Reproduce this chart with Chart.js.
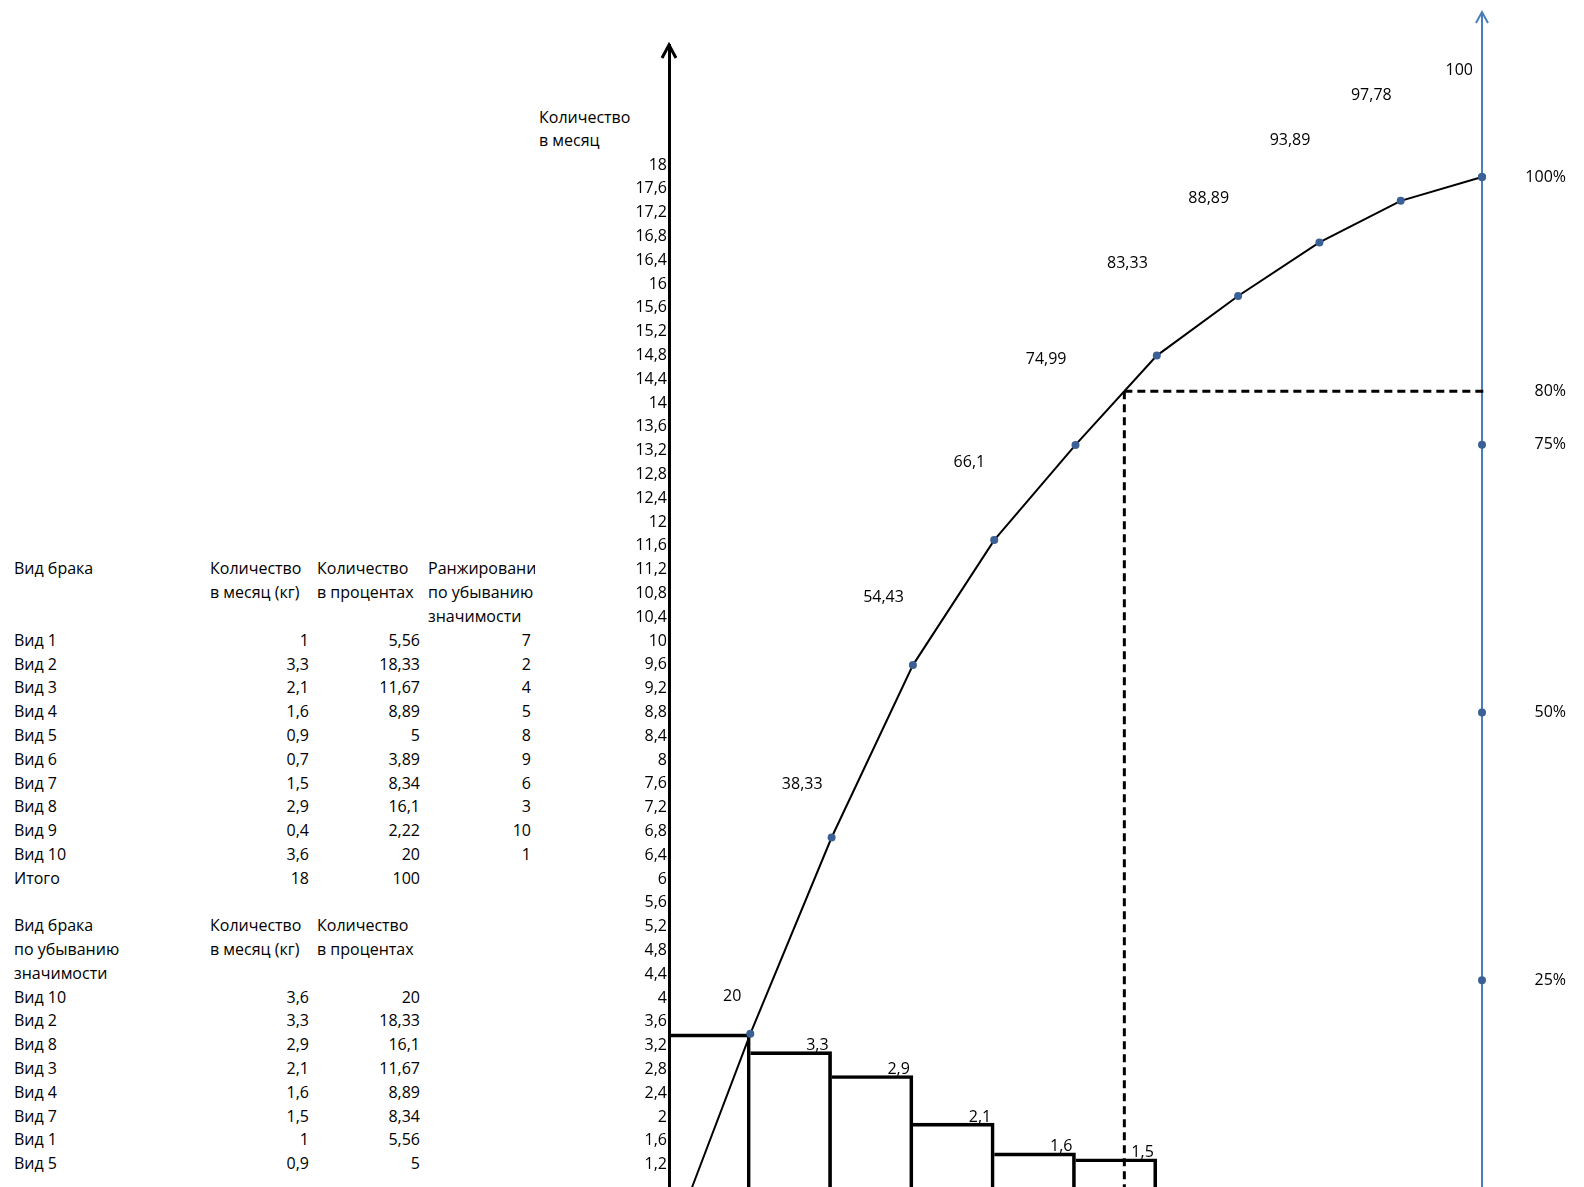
<!DOCTYPE html>
<html>
<head>
<meta charset="utf-8">
<script src="https://cdn.jsdelivr.net/npm/chart.js@4.4.0/dist/chart.umd.min.js"></script>
<style>
    html, body { margin: 0; width: 1584px; height: 1187px; overflow: hidden; background: #fff; }
    body { font-family: 'Open Sans', sans-serif; font-size: 16px; color: #000; position: relative; }
    .cell { position: absolute; height: 23.786px; line-height: 23.786px; white-space: nowrap; overflow: hidden; box-sizing: border-box; padding: 0 4px; }
    #pareto { position: absolute; left: 0; top: 0; }
</style>
</head>
<body>
<div id="sheet"></div>
<canvas id="pareto" width="1584" height="1260"></canvas>
<script>
// Worksheet grid (rows of the spreadsheet the chart was drawn on)
const ROW_H = 23.786;
const ROW0 = 153.1;
const LAST_ROW = 42; // last row visible in the screenshot
const FONT = '"Open Sans", sans-serif';

// Source table
const kinds = ['Вид 1', 'Вид 2', 'Вид 3', 'Вид 4', 'Вид 5', 'Вид 6', 'Вид 7', 'Вид 8', 'Вид 9', 'Вид 10'];
const kgPerMonth = [1, 3.3, 2.1, 1.6, 0.9, 0.7, 1.5, 2.9, 0.4, 3.6];
const pctShare = [5.56, 18.33, 11.67, 8.89, 5, 3.89, 8.34, 16.1, 2.22, 20];
const rankOrder = [7, 2, 4, 5, 8, 9, 6, 3, 10, 1];
const totalKg = 18;
const totalPct = 100;

// Sorted by importance (Pareto order)
const sortedKinds = ['Вид 10', 'Вид 2', 'Вид 8', 'Вид 3', 'Вид 4', 'Вид 7', 'Вид 1', 'Вид 5', 'Вид 6', 'Вид 9'];
const sortedKg = [3.6, 3.3, 2.9, 2.1, 1.6, 1.5, 1, 0.9, 0.7, 0.4];
const sortedPct = [20, 18.33, 16.1, 11.67, 8.89, 8.34, 5.56, 5, 3.89, 2.22];
const cumPct = [20, 38.33, 54.43, 66.1, 74.99, 83.33, 88.89, 93.89, 97.78, 100];

// Axis ticks
const yTicks = [18, 17.6, 17.2, 16.8, 16.4, 16, 15.6, 15.2, 14.8, 14.4, 14, 13.6, 13.2, 12.8, 12.4, 12,
    11.6, 11.2, 10.8, 10.4, 10, 9.6, 9.2, 8.8, 8.4, 8, 7.6, 7.2, 6.8, 6.4, 6, 5.6, 5.2, 4.8, 4.4, 4,
    3.6, 3.2, 2.8, 2.4, 2, 1.6, 1.2];
const pctTicks = [25, 50, 75, 80, 100];
const pctMarks = [25, 50, 75, 100];
const paretoLevel = 80;

const fmt = v => String(v).replace('.', ',');

// ---- Worksheet text ----
const sheet = document.getElementById('sheet');
const cols = {
    A: { left: 10, width: 196 },
    B: { left: 206, width: 107 },
    C: { left: 313, width: 111 },
    D: { left: 424, width: 111 },
    T: { left: 535, width: 130 }
};

function cell(row, col, text, align) {
    if (row > LAST_ROW) return;
    const d = document.createElement('div');
    d.className = 'cell';
    d.style.top = (ROW0 + row * ROW_H) + 'px';
    d.style.left = cols[col].left + 'px';
    d.style.width = cols[col].width + 'px';
    d.style.textAlign = align || 'left';
    d.textContent = text;
    sheet.appendChild(d);
}

// axis caption
cell(-2, 'T', 'Количество');
cell(-1, 'T', 'в месяц');

// first table
cell(17, 'A', 'Вид брака');
cell(17, 'B', 'Количество');
cell(18, 'B', 'в месяц (кг)');
cell(17, 'C', 'Количество');
cell(18, 'C', 'в процентах');
cell(17, 'D', 'Ранжирование');
cell(18, 'D', 'по убыванию');
cell(19, 'D', 'значимости');
kinds.forEach((k, i) => {
    cell(20 + i, 'A', k);
    cell(20 + i, 'B', fmt(kgPerMonth[i]), 'right');
    cell(20 + i, 'C', fmt(pctShare[i]), 'right');
    cell(20 + i, 'D', fmt(rankOrder[i]), 'right');
});
cell(30, 'A', 'Итого');
cell(30, 'B', fmt(totalKg), 'right');
cell(30, 'C', fmt(totalPct), 'right');

// second table
cell(32, 'A', 'Вид брака');
cell(33, 'A', 'по убыванию');
cell(34, 'A', 'значимости');
cell(32, 'B', 'Количество');
cell(33, 'B', 'в месяц (кг)');
cell(32, 'C', 'Количество');
cell(33, 'C', 'в процентах');
sortedKinds.forEach((k, i) => {
    cell(35 + i, 'A', k);
    cell(35 + i, 'B', fmt(sortedKg[i]), 'right');
    cell(35 + i, 'C', fmt(sortedPct[i]), 'right');
});

// ---- Drawing extras: arrows, dashed 80% lines, value labels ----
const paretoDecor = {
    id: 'paretoDecor',
    beforeDatasetsDraw(chart) {
        const { ctx, chartArea, scales: { x, y1 } } = chart;
        const pts = [0, ...cumPct];
        let cross = 0;
        for (let i = 1; i < pts.length; i++) {
            if (pts[i] >= paretoLevel) {
                cross = i - 1 + (paretoLevel - pts[i - 1]) / (pts[i] - pts[i - 1]);
                break;
            }
        }
        const px = x.getPixelForValue(cross);
        const py = y1.getPixelForValue(paretoLevel);
        ctx.save();
        ctx.strokeStyle = '#000';
        ctx.lineWidth = 3;
        ctx.setLineDash([8, 5]);
        ctx.beginPath();
        ctx.moveTo(px, py);
        ctx.lineTo(x.getPixelForValue(x.max) + 3, py);
        ctx.moveTo(px, py);
        ctx.lineTo(px, chartArea.bottom);
        ctx.stroke();
        ctx.restore();
    },
    afterDatasetsDraw(chart) {
        const { ctx, chartArea, scales: { x, y, yLab } } = chart;
        ctx.save();

        // left axis arrow
        ctx.strokeStyle = '#000';
        ctx.lineWidth = 3;
        ctx.beginPath();
        ctx.moveTo(chartArea.left - 7, chartArea.top + 13);
        ctx.lineTo(chartArea.left, chartArea.top);
        ctx.lineTo(chartArea.left + 7, chartArea.top + 13);
        ctx.stroke();

        // right (percent) axis extension and arrow
        ctx.strokeStyle = '#4a7ebb';
        ctx.lineWidth = 2;
        ctx.beginPath();
        ctx.moveTo(chartArea.right, chartArea.top);
        ctx.lineTo(chartArea.right, 12);
        ctx.moveTo(chartArea.right - 6, 23);
        ctx.lineTo(chartArea.right, 12);
        ctx.lineTo(chartArea.right + 6, 23);
        ctx.stroke();

        ctx.fillStyle = '#000';
        ctx.font = '16px ' + FONT;
        ctx.textAlign = 'right';
        ctx.textBaseline = 'middle';

        // cumulative percent labels
        cumPct.forEach((v, i) => {
            ctx.fillText(fmt(v), x.getPixelForValue(i + 1) - 9, yLab.getPixelForValue(v));
        });

        // bar value labels
        sortedKg.forEach((v, i) => {
            if (i === 0) return;
            const ly = y.getPixelForValue(v) - 6;
            if (ly > 1176) return;
            ctx.fillText(fmt(v), x.getPixelForValue(i + 1) - 3, ly);
        });
        ctx.restore();
    }
};

const ctx = document.getElementById('pareto').getContext('2d');
const pareto = new Chart(ctx, {
    type: 'bar',
    data: {
        datasets: [{
            type: 'line',
            label: 'Накопленный процент',
            data: [{ x: 0, y: 0 }, ...cumPct.map((v, i) => ({ x: i + 1, y: v }))],
            xAxisID: 'x',
            yAxisID: 'y1',
            borderColor: '#000',
            borderWidth: 2,
            tension: 0,
            pointRadius: c => c.dataIndex === 0 ? 0 : 4,
            pointBackgroundColor: '#3b6095',
            pointBorderWidth: 0,
            clip: false,
            order: 0
        }, {
            type: 'scatter',
            label: 'Шкала',
            data: pctMarks.map(v => ({ x: 10, y: v })),
            xAxisID: 'x',
            yAxisID: 'y1',
            pointRadius: 4,
            pointBackgroundColor: '#3b6095',
            pointBorderWidth: 0,
            clip: false,
            order: 1
        }, {
            type: 'bar',
            label: 'Количество в месяц',
            data: sortedKg.map((v, i) => ({ x: i + 0.5, y: v })),
            xAxisID: 'x',
            yAxisID: 'y',
            backgroundColor: 'rgba(0,0,0,0)',
            borderColor: '#000',
            borderWidth: { top: 3, right: 3, left: 0, bottom: 0 },
            borderSkipped: false,
            barPercentage: 1,
            categoryPercentage: 1,
            order: 2
        }]
    },
    options: {
        responsive: false,
        animation: false,
        layout: { padding: { top: 45, bottom: 12, left: 0, right: 18 } },
        plugins: {
            legend: { display: false },
            tooltip: { enabled: false }
        },
        scales: {
            x: {
                type: 'linear',
                min: 0,
                max: 10,
                offset: false,
                display: false
            },
            y: {
                position: 'left',
                min: 0,
                max: 20.22,
                afterBuildTicks: s => { s.ticks = yTicks.map(v => ({ value: v })); },
                afterFit: s => { s.width = 669; },
                grid: { display: false, drawTicks: false },
                border: { display: true, color: '#000', width: 3 },
                ticks: {
                    autoSkip: false,
                    padding: 2,
                    labelOffset: -12,
                    color: '#000',
                    font: { family: FONT, size: 16 },
                    callback: v => fmt(v)
                }
            },
            y1: {
                position: 'right',
                min: 0,
                max: 112.33,
                afterBuildTicks: s => { s.ticks = pctTicks.map(v => ({ value: v })); },
                afterFit: s => { s.width = 84; },
                grid: { display: false, drawTicks: true, tickLength: 42 },
                border: { display: true, color: '#4a7ebb', width: 2 },
                ticks: {
                    autoSkip: false,
                    padding: 0,
                    crossAlign: 'far',
                    color: '#000',
                    font: { family: FONT, size: 16 },
                    callback: v => v + '%'
                }
            },
            yLab: {
                display: false,
                min: -1.727,
                max: 102.16
            }
        }
    },
    plugins: [paretoDecor]
});
</script>
</body>
</html>
